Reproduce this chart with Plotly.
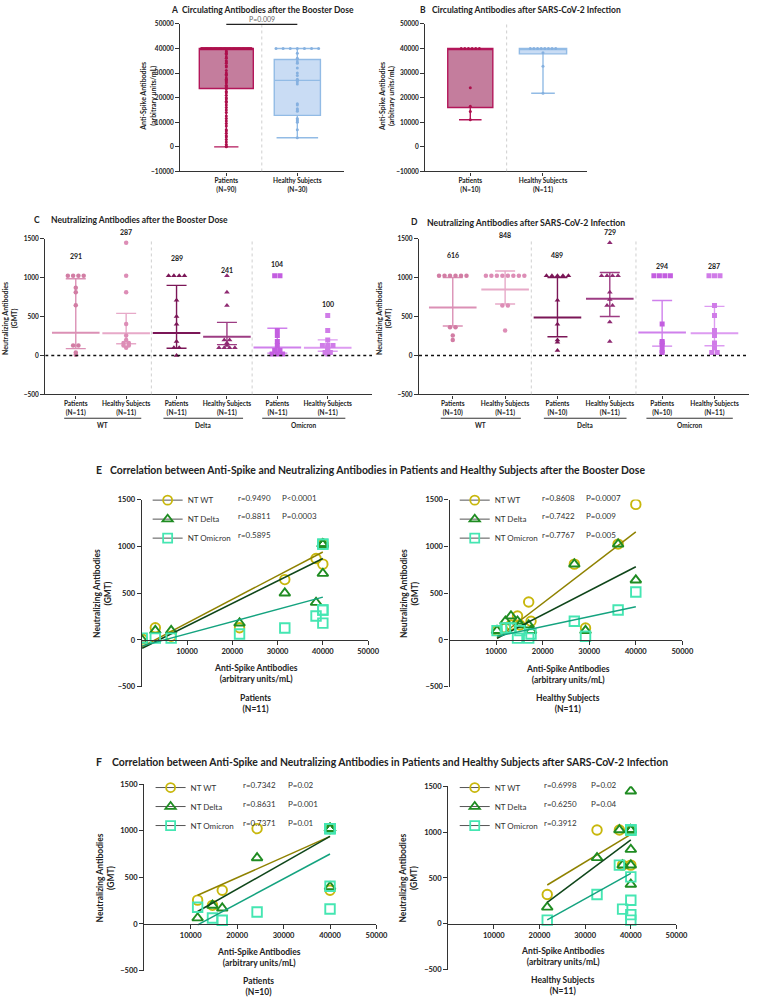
import plotly.graph_objects as go
from collections import Counter, defaultdict

W, H = 763, 1003
FONT = "Lato"

# ---------------- A / B : anti-spike antibodies ----------------
a_groups = ["Patients<br>(N=90)", "Healthy Subjects<br>(N=30)"]
a_q1 = [23700, 12800]
a_median = [40000, 27000]
a_q3 = [40000, 35500]
a_low = [0, 3700]
a_high = [40000, 40000]
a_patients = [40000] * 40 + [
    39000, 38500, 38000, 37500, 36500, 36000, 35000, 34500, 34000, 33000,
    32500, 31000, 30000, 29500, 29000, 28000, 27500, 27000, 26500, 26000,
    25000, 24500, 24000, 23500, 22500, 22000, 21000, 20000, 19500, 18500,
    18000, 17000, 16000, 15000, 14000, 12500, 11500, 10500, 9500, 8500,
    7000, 6500, 5500, 4500, 4000, 3000, 2000, 1000, 300, 100]
a_healthy = [40000] * 7 + [
    38000, 36000, 35500, 34500, 34000, 32000, 30000, 29000, 27500, 27000,
    26500, 25500, 17500, 17000, 15500, 15000, 14500, 11500, 11000, 10500,
    10000, 7000, 3700]
a_pvalue = "P=0.009"

b_groups = ["Patients<br>(N=10)", "Healthy Subjects<br>(N=11)"]
b_q1 = [16000, 37800]
b_median = [40000, 40000]
b_q3 = [40000, 40000]
b_low = [11000, 21800]
b_high = [40000, 40000]
b_patients = [40000] * 6 + [24000, 16500, 14400, 11000]
b_healthy = [40000] * 8 + [38200, 32800, 21800]

# ---------------- C / D : neutralizing antibodies (GMT) ----------------
variants = ["WT", "Delta", "Omicron"]
c_groups = ["Patients<br>(N=11)", "Healthy Subjects<br>(N=11)"] * 3
c_wt_p = [1024, 1024, 1024, 1024, 870, 810, 645, 128, 128, 40, 10]
c_wt_h = [1448, 1024, 810, 405, 256, 200, 160, 160, 128, 128, 100]
c_de_p = [1024, 1024, 1024, 1024, 710, 500, 400, 180, 100, 100, 0]
c_de_h = [1024, 810, 640, 200, 200, 160, 128, 100, 100, 100, 100]
c_om_p = [1024, 1024, 320, 256, 180, 128, 64, 64, 20, 20, 20]
c_om_h = [512, 320, 200, 128, 128, 128, 100, 64, 40, 40, 20]
c_gmt = [291, 287, 289, 241, 104, 100]
c_ci_low = [88, 150, 93, 140, 30, 55]
c_ci_high = [985, 540, 899, 425, 350, 200]

d_groups = ["Patients<br>(N=10)", "Healthy Subjects<br>(N=11)"] * 3
d_wt_p = [1024, 1024, 1024, 1024, 1024, 1024, 362, 362, 256, 200]
d_wt_h = [1024, 1024, 1024, 1024, 1024, 1024, 1024, 1024, 640, 640, 320]
d_de_p = [1024, 1024, 1024, 1024, 1024, 710, 400, 200, 170, 64]
d_de_h = [1448, 1024, 1024, 1024, 1024, 810, 720, 640, 640, 430, 180]
d_om_p = [1024, 1024, 1024, 1024, 405, 180, 160, 128, 64, 40]
d_om_h = [1024, 1024, 1024, 640, 512, 320, 256, 160, 100, 40, 40]
d_gmt = [616, 848, 489, 729, 294, 287]
d_ci_low = [378, 660, 240, 500, 120, 125]
d_ci_high = [1000, 1085, 1000, 1065, 705, 630]

# ---------------- E / F : correlations ----------------
# booster, patients (N=11)
ep_spike = [100, 3000, 6500, 21600, 31600, 38500, 40000, 40000, 40000, 40000, 40000]
ep_wt = [10, 130, 40, 130, 645, 870, 810, 1024, 1024, 1024, 1024]
ep_delta = [0, 100, 100, 180, 500, 400, 710, 1024, 1024, 1024, 1024]
ep_omi = [20, 20, 20, 64, 128, 256, 320, 180, 1024, 1024, 320]
ep_fit_x = [100, 40000]
ep_fit_wt = [-70, 940]
ep_fit_delta = [-88, 870]
ep_fit_omi = [-63, 458]
ep_stats = [("r=0.9490", "P<0.0001"), ("r=0.8811", "P=0.0003"), ("r=0.5895", "")]

# booster, healthy subjects (N=11)
eh_spike = [10200, 12000, 13200, 14600, 15100, 17000, 17500, 26800, 29200, 36200, 40000]
eh_wt = [100, 128, 160, 256, 160, 405, 200, 810, 128, 1024, 1448]
eh_delta = [100, 200, 256, 200, 160, 160, 100, 810, 100, 1024, 640]
eh_omi = [100, 128, 128, 20, 100, 20, 64, 200, 40, 320, 512]
eh_fit_x = [10200, 40000]
eh_fit_wt = [18, 1155]
eh_fit_delta = [18, 782]
eh_fit_omi = [40, 356]
eh_stats = [("r=0.8608", "P=0.0007"), ("r=0.7422", "P=0.009"), ("r=0.7767", "P=0.005")]

# infection, patients (N=10)
fp_spike = [11500, 14700, 16800, 24300, 40000, 40000, 40000, 40000, 40000, 40000]
fp_wt = [256, 200, 362, 1024, 1024, 1024, 1024, 1024, 1024, 362]
fp_delta = [64, 200, 170, 710, 1024, 1024, 1024, 1024, 1024, 400]
fp_omi = [180, 64, 40, 128, 1024, 1024, 1024, 1024, 160, 405]
fp_fit_x = [11500, 40000]
fp_fit_wt = [308, 940]
fp_fit_delta = [134, 940]
fp_fit_omi = [-10, 751]
fp_stats = [("r=0.7342", "P=0.02"), ("r=0.8631", "P=0.001"), ("r=0.7371", "P=0.01")]

# infection, healthy subjects (N=11)
fh_spike = [21700, 32600, 37500, 38200, 40000, 40000, 40000, 40000, 40000, 40000, 40000]
fh_wt = [320, 1024, 1024, 640, 1024, 1024, 1024, 1024, 1024, 1024, 640]
fh_delta = [180, 720, 1024, 640, 1448, 1024, 1024, 1024, 810, 640, 430]
fh_omi = [40, 320, 640, 160, 1024, 1024, 1024, 512, 256, 100, 40]
fh_fit_x = [21700, 40000]
fh_fit_wt = [423, 976]
fh_fit_delta = [233, 916]
fh_fit_omi = [43, 550]
fh_stats = [("r=0.6998", "P=0.02"), ("r=0.6250", "P=0.04"), ("r=0.3912", "")]


def fx(px):
    return px / W


def fy(py):
    return 1 - py / H


def spread(vals, step, max_w=None):
    # horizontal offsets for repeated values (dot-plot style)
    counts = Counter(vals)
    seen = defaultdict(int)
    out = []
    for v in vals:
        n = counts[v]
        s = step if (max_w is None or n < 2) else min(step, max_w / (n - 1))
        out.append((seen[v] - (n - 1) / 2) * s)
        seen[v] += 1
    return out


def note(text, px, py, size=7, bold=True, color="#222", angle=0,
         xanchor="center", yanchor="middle"):
    return dict(text=text, x=fx(px), y=fy(py), xref="paper", yref="paper",
                showarrow=False, textangle=angle, xanchor=xanchor, yanchor=yanchor,
                font=dict(family=FONT, size=size, color=color,
                          weight="bold" if bold else "normal"))


def axis(domain, rng, tickvals, anchor, size, ticktext=None, ticklen=4):
    d = dict(domain=domain, range=rng, tickvals=tickvals, anchor=anchor,
             showline=True, linecolor="#333", linewidth=1.2, ticks="outside",
             ticklen=ticklen, tickwidth=1.1, tickcolor="#333", showgrid=False,
             zeroline=False, fixedrange=True, tickformat="d",
             tickfont=dict(family=FONT, size=size, color="#222", weight="bold"))
    if ticktext is not None:
        d["ticktext"] = ticktext
    return d


fig = go.Figure()
shapes = []
ann = []

# ---------------- panels A and B ----------------
PAT_FILL, PAT_LINE, PAT_DOT = "#c47d9d", "#b3165a", "#ad104c"
HS_FILL, HS_LINE, HS_DOT = "#c9dcf4", "#92bbe5", "#86b1e0"

box_panels = [
    ("x", "y", a_q1, a_median, a_q3, a_low, a_high, a_patients, a_healthy,
     [0.76, 0.65], [0.45, 0.9], [0.018, 0.1]),
    ("x2", "y2", b_q1, b_median, b_q3, b_low, b_high, b_patients, b_healthy,
     [0.62, 0.65], [0.5, 0.5], [0.05, 0.05]),
]
for xa, ya, q1, med, q3, lo, hi, pts_p, pts_h, widths, wws, steps in box_panels:
    for i, (fill, line, dot, pts) in enumerate([(PAT_FILL, PAT_LINE, PAT_DOT, pts_p),
                                                (HS_FILL, HS_LINE, HS_DOT, pts_h)]):
        fig.add_trace(go.Box(
            x=[i], q1=[q1[i]], median=[med[i]], q3=[q3[i]],
            lowerfence=[lo[i]], upperfence=[hi[i]], boxpoints=False,
            width=widths[i], whiskerwidth=wws[i], fillcolor=fill,
            line=dict(color=line, width=1.4), xaxis=xa, yaxis=ya,
            showlegend=False, hoverinfo="skip"))
        offs = spread(pts, steps[i], 0.7)
        fig.add_trace(go.Scatter(
            x=[i + o for o in offs], y=pts, mode="markers",
            marker=dict(size=3, color=dot), xaxis=xa, yaxis=ya,
            showlegend=False, hoverinfo="skip"))
    shapes.append(dict(type="line", xref=xa, yref=ya, x0=0.5, x1=0.5,
                       y0=-10000, y1=50000,
                       line=dict(color="#cfcfcf", width=1, dash="dot")))

# significance bracket in A (drawn on the paper so it is not clipped at the top edge)
shapes.append(dict(type="line", xref="x", yref="paper", x0=0, x1=1,
                   y0=fy(20.5), y1=fy(20.5), line=dict(color="#222", width=1.3)))
ann.append(dict(text=a_pvalue, x=0.5, y=fy(21), xref="x", yref="paper", showarrow=False,
                yanchor="bottom",
                font=dict(family=FONT, size=7, color="#666")))

# ---------------- panels C and D ----------------
C_COL = ["#d27da4", "#dd8db6", "#7b1657", "#8f2a72", "#c35ee0", "#d07ce8"]
C_BAR = ["#db90b5", "#e7a9c8", "#7b1657", "#9d3c83", "#cf80ec", "#dd9bf1"]
C_SYM = ["circle", "circle", "triangle-up", "triangle-up", "square", "square"]

NT_TOP, NT_BOT = 236.7, 394


def nt_to_py(v):
    # pixel row of a GMT value in panels C/D (range -500..1500)
    return NT_BOT - (v + 500) / 2000 * (NT_BOT - NT_TOP)


nt_panels = [
    ("x3", "y3", [c_wt_p, c_wt_h, c_de_p, c_de_h, c_om_p, c_om_h], c_gmt, c_ci_low, c_ci_high,
     [1280, 1590, 1250, 1100, 1170, 660], [-0.605, 5.88]),
    ("x4", "y4", [d_wt_p, d_wt_h, d_de_p, d_de_h, d_om_p, d_om_h], d_gmt, d_ci_low, d_ci_high,
     [1295, 1545, 1295, 1580, 1150, 1150], [-0.645, 5.66]),
]
for xa, ya, groups, gmt, lo, hi, label_y, xr in nt_panels:
    for g, vals in enumerate(groups):
        fig.add_trace(go.Scatter(
            x=[g], y=[gmt[g]], mode="markers",
            marker=dict(symbol="line-ew", size=34, line=dict(width=2, color=C_BAR[g])),
            error_y=dict(type="data", symmetric=False, array=[hi[g] - gmt[g]],
                         arrayminus=[gmt[g] - lo[g]], width=10, thickness=1.4,
                         color=C_BAR[g]),
            xaxis=xa, yaxis=ya, showlegend=False, hoverinfo="skip"))
        offs = spread(vals, 0.105)
        fig.add_trace(go.Scatter(
            x=[g + o for o in offs], y=vals, mode="markers",
            marker=dict(symbol=C_SYM[g], size=4.5 if g < 2 else 5, color=C_COL[g]),
            xaxis=xa, yaxis=ya, showlegend=False, hoverinfo="skip"))
        ann.append(dict(text=str(gmt[g]), x=g, y=fy(nt_to_py(label_y[g])), xref=xa,
                        yref="paper", yanchor="middle", showarrow=False,
                        font=dict(family=FONT, size=7, color="#222", weight="bold")))
    shapes.append(dict(type="line", xref=xa, yref=ya, x0=xr[0], x1=xr[1], y0=0, y1=0,
                       line=dict(color="#111", width=1.4, dash="dot")))
    for sx in (1.5, 3.5):
        shapes.append(dict(type="line", xref=xa, yref=ya, x0=sx, x1=sx, y0=-500, y1=1500,
                           line=dict(color="#cfcfcf", width=1, dash="dot")))
    for k, (s0, s1) in enumerate([(-0.23, 1.3), (1.74, 3.32), (3.7, 5.35)]):
        shapes.append(dict(type="line", xref=xa, yref="paper", x0=s0, x1=s1,
                           y0=fy(418), y1=fy(418), line=dict(color="#333", width=1)))
        ann.append(dict(text=variants[k], x=(s0 + s1) / 2, y=fy(425), xref=xa, yref="paper",
                        showarrow=False, yanchor="middle",
                        font=dict(family=FONT, size=6.5, color="#222", weight="bold")))

# ---------------- panels E and F ----------------
WT_C, DE_C, OM_C = "#c8b70c", "#1f8c22", "#45e6b2"
WT_L, DE_L, OM_L = "#8f8200", "#0f461a", "#14a37f"

corr_panels = [
    ("x5", "y5", "legend", ep_spike, ep_wt, ep_delta, ep_omi, ep_fit_x,
     ep_fit_wt, ep_fit_delta, ep_fit_omi, ep_stats, 150, 486, 240, 284),
    ("x6", "y6", "legend2", eh_spike, eh_wt, eh_delta, eh_omi, eh_fit_x,
     eh_fit_wt, eh_fit_delta, eh_fit_omi, eh_stats, 462, 486, 549, 593),
    ("x7", "y7", "legend3", fp_spike, fp_wt, fp_delta, fp_omi, fp_fit_x,
     fp_fit_wt, fp_fit_delta, fp_fit_omi, fp_stats, 153, 776, 245, 291),
    ("x8", "y8", "legend4", fh_spike, fh_wt, fh_delta, fh_omi, fh_fit_x,
     fh_fit_wt, fh_fit_delta, fh_fit_omi, fh_stats, 462, 776, 551, 598),
]
series = [("NT WT", "circle-open", WT_C, WT_L),
          ("NT Delta", "triangle-up-open", DE_C, DE_L),
          ("NT Omicron", "square-open", OM_C, OM_L)]

legend_style = dict(xanchor="left", yanchor="top", bgcolor="rgba(0,0,0,0)",
                    font=dict(family=FONT, size=8, color="#333"),
                    itemwidth=30, tracegroupgap=0, itemclick=False, itemdoubleclick=False)
legends = {}

for (xa, ya, leg, spike, wt, de, om, fit_x, f_wt, f_de, f_om, stats,
     leg_x, leg_y, r_x, p_x) in corr_panels:
    for (name, sym, col, lcol), vals, fit in zip(series, [wt, de, om], [f_wt, f_de, f_om]):
        fig.add_trace(go.Scatter(
            x=spike, y=vals, mode="markers",
            marker=dict(symbol=sym, size=9.5, color=col, line=dict(width=1.9, color=col)),
            xaxis=xa, yaxis=ya, showlegend=False, hoverinfo="skip"))
        fig.add_trace(go.Scatter(
            x=fit_x, y=fit, mode="lines", line=dict(color=lcol, width=1.5),
            xaxis=xa, yaxis=ya, showlegend=False, hoverinfo="skip"))
    for name, sym, col, lcol in series:
        fig.add_trace(go.Scatter(
            x=[None], y=[None], mode="lines+markers", name=name, legend=leg,
            marker=dict(symbol=sym, size=9, color=col, line=dict(width=1.8, color=col)),
            line=dict(color="#555", width=1), xaxis=xa, yaxis=ya))
    legends[leg] = dict(legend_style, x=fx(leg_x), y=fy(leg_y))
    for k, (r_txt, p_txt) in enumerate(stats):
        row = leg_y + 12 + 19 * k
        ann.append(note(r_txt, r_x, row, size=8, bold=False, color="#333", xanchor="left"))
        if p_txt:
            ann.append(note(p_txt, p_x, row, size=8, bold=False, color="#333", xanchor="left"))

# ---------------- titles and axis labels ----------------
ann += [
    note("A", 172, 6, size=8.5, xanchor="left"),
    note("Circulating Antibodies after the Booster Dose", 183, 6, size=8.5, xanchor="left"),
    note("B", 425, 6, size=8.5, xanchor="left"),
    note("Circulating Antibodies after SARS-CoV-2 Infection", 437, 6, size=8.5, xanchor="left"),
    note("C", 33, 218, size=8.5, xanchor="left"),
    note("Neutralizing Antibodies after the Booster Dose", 50, 218, size=8.5, xanchor="left"),
    note("D", 416, 220, size=8.5, xanchor="left"),
    note("Neutralizing Antibodies after SARS-CoV-2 Infection", 432, 220, size=8.7, xanchor="left"),
    note("E", 95, 470, size=10.5, xanchor="left"),
    note("Correlation between Anti-Spike and Neutralizing Antibodies in Patients and "
         "Healthy Subjects after the Booster Dose", 110, 470, size=10.4, xanchor="left"),
    note("F", 95, 765, size=10.5, xanchor="left"),
    note("Correlation between Anti-Spike and Neutralizing Antibodies in Patients and "
         "Healthy Subjects after SARS-CoV-2 Infection", 112, 765, size=10.4, xanchor="left"),
    note("Anti-Spike Antibodies<br>(arbitrary units/mL)", 151, 93, size=7, angle=-90),
    note("Anti-Spike Antibodies<br>(arbitrary units/mL)", 393, 93, size=7, angle=-90),
    note("Neutralizing Antibodies<br>(GMT)", 10, 317, size=7, angle=-90),
    note("Neutralizing Antibodies<br>(GMT)", 390, 317, size=7, angle=-90),
    note("Neutralizing Antibodies<br>(GMT)", 104, 595, size=8.5, angle=-90),
    note("Neutralizing Antibodies<br>(GMT)", 416, 595, size=8.5, angle=-90),
    note("Neutralizing Antibodies<br>(GMT)", 107, 882, size=8.5, angle=-90),
    note("Neutralizing Antibodies<br>(GMT)", 415, 882, size=8.5, angle=-90),
    note("Anti-Spike Antibodies<br>(arbitrary units/mL)", 260, 676, size=8.5),
    note("Patients<br>(N=11)", 260, 706, size=8.5),
    note("Anti-Spike Antibodies<br>(arbitrary units/mL)", 577, 677, size=8.5),
    note("Healthy Subjects<br>(N=11)", 577, 706, size=8.5),
    note("Anti-Spike Antibodies<br>(arbitrary units/mL)", 263, 962, size=8.5),
    note("Patients<br>(N=10)", 263, 991, size=8.5),
    note("Anti-Spike Antibodies<br>(arbitrary units/mL)", 572, 961, size=8.5),
    note("Healthy Subjects<br>(N=11)", 572, 990, size=8.5),
]

spike_ticks = [-10000, 0, 10000, 20000, 30000, 40000, 50000]
nt_ticks = [-500, 0, 500, 1000, 1500]
corr_xticks = [10000, 20000, 30000, 40000, 50000]

layout_axes = dict(
    xaxis=axis([fx(183), fx(349)], [-0.65, 1.65], [0, 1], "y", 6.5, a_groups, 3),
    yaxis=axis([fy(169), fy(20)], [-10000, 50000], spike_ticks, "x", 6.5),
    xaxis2=axis([fx(432), fx(596)], [-0.62, 1.6], [0, 1], "y2", 6.5, b_groups, 3),
    yaxis2=axis([fy(169), fy(20)], [-10000, 50000], spike_ticks, "x2", 6.5),
    xaxis3=axis([fx(46), fx(378)], [-0.605, 5.88], list(range(6)), "y3", 6.5, c_groups, 3),
    yaxis3=axis([fy(NT_BOT), fy(NT_TOP)], [-500, 1500], nt_ticks, "x3", 6.5),
    xaxis4=axis([fx(425.7), fx(761)], [-0.645, 5.66], list(range(6)), "y4", 6.5, d_groups, 3),
    yaxis4=axis([fy(NT_BOT), fy(NT_TOP)], [-500, 1500], nt_ticks, "x4", 6.5),
    xaxis5=axis([fx(144), fx(374)], [0, 50000], corr_xticks, "free", 7.5),
    yaxis5=axis([fy(689), fy(500)], [-500, 1500], nt_ticks, "x5", 7.5),
    xaxis6=axis([fx(456.7), fx(693.3)], [0, 50000], corr_xticks, "free", 7.5),
    yaxis6=axis([fy(689), fy(500)], [-500, 1500], nt_ticks, "x6", 7.5),
    xaxis7=axis([fx(146.5), fx(382.5)], [0, 50000], corr_xticks, "free", 7.5),
    yaxis7=axis([fy(975.3), fy(787.3)], [-500, 1500], nt_ticks, "x7", 7.5),
    xaxis8=axis([fx(455.3), fx(687.3)], [0, 50000], corr_xticks, "free", 7.5),
    yaxis8=axis([fy(974.3), fy(789.4)], [-500, 1500], nt_ticks, "x8", 7.5),
)
layout_axes["xaxis5"]["position"] = fy(641.7)
layout_axes["xaxis6"]["position"] = fy(641.7)
layout_axes["xaxis7"]["position"] = fy(928.3)
layout_axes["xaxis8"]["position"] = fy(928.1)

fig.update_layout(
    width=W, height=H,
    margin=dict(l=0, r=0, t=0, b=0),
    paper_bgcolor="white", plot_bgcolor="white",
    font=dict(family=FONT, color="#222"),
    shapes=shapes, annotations=ann,
    **layout_axes, **legends,
)

# drop the default page margin so the figure sits at the window origin
fig.write_html("out.html", config={"displayModeBar": False},
               post_script="document.body.style.margin='0px';")
